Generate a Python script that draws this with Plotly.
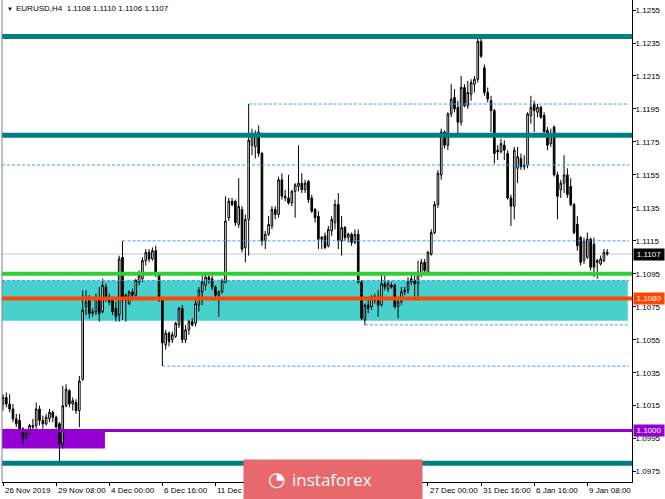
import plotly.graph_objects as go

# ---------------- data (EURUSD H4) ----------------
opens = [1.1016,1.1020,1.1016,1.1013,1.1007,1.1006,1.1001,1.0996,1.0999,1.1003,
         1.1003,1.1013,1.1006,1.1004,1.1007,1.1011,1.1008,1.1004,1.0992,1.1015,
         1.1024,1.1016,1.1017,1.1012,1.1031,1.1075,1.1079,1.1071,1.1072,1.1080,
         1.1072,1.1087,1.1081,1.1079,1.1074,1.1070,1.1105,1.1079,1.1077,1.1084,
         1.1082,1.1090,1.1092,1.1103,1.1108,1.1104,1.1109,1.1095,1.1079,1.1052,
         1.1059,1.1055,1.1057,1.1064,1.1074,1.1055,1.1061,1.1066,1.1065,1.1076,
         1.1084,1.1088,1.1093,1.1092,1.1087,1.1082,1.1084,1.1090,1.1129,1.1139,
         1.1139,1.1125,1.1134,1.1111,1.1128,1.1173,1.1172,1.1181,1.1168,1.1115,
         1.1119,1.1124,1.1134,1.1131,1.1152,1.1142,1.1141,1.1138,1.1145,1.1148,
         1.1150,1.1146,1.1151,1.1141,1.1134,1.1130,1.1116,1.1118,1.1112,1.1121,
         1.1126,1.1137,1.1115,1.1123,1.1117,1.1119,1.1114,1.1119,1.1090,1.1067,
         1.1076,1.1075,1.1081,1.1079,1.1076,1.1089,1.1086,1.1088,1.1088,1.1075,
         1.1078,1.1084,1.1085,1.1090,1.1091,1.1089,1.1095,1.1102,1.1096,1.1107,
         1.1120,1.1137,1.1155,1.1181,1.1173,1.1192,1.1202,1.1196,1.1187,1.1208,
         1.1197,1.1204,1.1210,1.1213,1.1236,1.1220,1.1205,1.1200,1.1194,1.1170,
         1.1169,1.1173,1.1168,1.1141,1.1136,1.1159,1.1165,1.1160,1.1161,1.1191,
         1.1198,1.1193,1.1196,1.1191,1.1182,1.1174,1.1184,1.1155,1.1146,1.1150,
         1.1155,1.1148,1.1137,1.1125,1.1117,1.1103,1.1105,1.1116,1.1113,1.1102,
         1.1101,1.1103,1.1108]
highs = [1.1022,1.1023,1.1022,1.1016,1.1010,1.1010,1.1002,1.1000,1.1004,1.1007,
         1.1017,1.1015,1.1009,1.1010,1.1013,1.1012,1.1009,1.1005,1.1027,1.1028,
         1.1025,1.1020,1.1019,1.1033,1.1085,1.1085,1.1082,1.1074,1.1083,1.1087,
         1.1092,1.1089,1.1083,1.1081,1.1078,1.1106,1.1115,1.1083,1.1085,1.1086,
         1.1092,1.1097,1.1105,1.1110,1.1110,1.1111,1.1112,1.1096,1.1080,1.1061,
         1.1060,1.1060,1.1066,1.1075,1.1076,1.1064,1.1067,1.1068,1.1080,1.1087,
         1.1095,1.1095,1.1095,1.1094,1.1088,1.1085,1.1092,1.1142,1.1141,1.1141,
         1.1140,1.1153,1.1136,1.1131,1.1198,1.1183,1.1182,1.1185,1.1169,1.1121,
         1.1130,1.1136,1.1136,1.1154,1.1156,1.1146,1.1155,1.1146,1.1150,1.1173,
         1.1156,1.1152,1.1152,1.1143,1.1135,1.1133,1.1118,1.1120,1.1124,1.1130,
         1.1140,1.1144,1.1130,1.1124,1.1120,1.1120,1.1122,1.1122,1.1091,1.1077,
         1.1079,1.1082,1.1083,1.1085,1.1094,1.1094,1.1091,1.1090,1.1089,1.1081,
         1.1087,1.1087,1.1093,1.1095,1.1094,1.1103,1.1104,1.1104,1.1109,1.1122,
         1.1139,1.1158,1.1183,1.1182,1.1193,1.1210,1.1207,1.1200,1.1215,1.1210,
         1.1212,1.1213,1.1215,1.1238,1.1239,1.1222,1.1208,1.1203,1.1195,1.1173,
         1.1177,1.1176,1.1170,1.1143,1.1172,1.1172,1.1168,1.1167,1.1193,1.1203,
         1.1200,1.1198,1.1197,1.1193,1.1184,1.1183,1.1185,1.1157,1.1152,1.1167,
         1.1159,1.1153,1.1138,1.1130,1.1118,1.1117,1.1120,1.1117,1.1117,1.1104,
         1.1106,1.1110,1.1110]
lows = [1.1012,1.1014,1.1011,1.1005,1.1002,1.0999,1.0992,1.0994,1.0997,1.1000,
        1.1001,1.1003,1.1001,1.1003,1.1005,1.1005,1.1001,1.0980,1.0989,1.1014,
        1.1014,1.1012,1.1010,1.1002,1.1030,1.1070,1.1068,1.1069,1.1070,1.1066,
        1.1071,1.1078,1.1076,1.1070,1.1066,1.1066,1.1067,1.1066,1.1076,1.1080,
        1.1081,1.1088,1.1090,1.1100,1.1102,1.1103,1.1093,1.1078,1.1039,1.1049,
        1.1051,1.1053,1.1056,1.1062,1.1053,1.1053,1.1058,1.1063,1.1063,1.1072,
        1.1076,1.1085,1.1089,1.1085,1.1079,1.1069,1.1083,1.1089,1.1127,1.1136,
        1.1124,1.1123,1.1108,1.1102,1.1106,1.1167,1.1165,1.1166,1.1112,1.1110,
        1.1118,1.1122,1.1128,1.1129,1.1140,1.1139,1.1137,1.1136,1.1129,1.1145,
        1.1144,1.1144,1.1138,1.1132,1.1126,1.1110,1.1110,1.1110,1.1111,1.1118,
        1.1122,1.1110,1.1106,1.1115,1.1114,1.1112,1.1113,1.1089,1.1067,1.1064,
        1.1071,1.1073,1.1077,1.1069,1.1075,1.1085,1.1084,1.1086,1.1074,1.1068,
        1.1076,1.1082,1.1083,1.1088,1.1081,1.1081,1.1093,1.1095,1.1094,1.1106,
        1.1119,1.1135,1.1152,1.1171,1.1170,1.1190,1.1193,1.1180,1.1185,1.1196,
        1.1195,1.1200,1.1205,1.1211,1.1226,1.1203,1.1199,1.1181,1.1162,1.1164,
        1.1168,1.1164,1.1140,1.1124,1.1128,1.1150,1.1158,1.1158,1.1159,1.1186,
        1.1181,1.1190,1.1189,1.1181,1.1170,1.1172,1.1154,1.1128,1.1141,1.1144,
        1.1141,1.1136,1.1119,1.1109,1.1100,1.1101,1.1104,1.1097,1.1093,1.1092,
        1.1100,1.1102,1.1106]
closes = [1.1020,1.1016,1.1013,1.1007,1.1004,1.1001,1.0995,1.0998,1.1003,1.1002,
          1.1013,1.1006,1.1004,1.1008,1.1011,1.1008,1.1002,1.0992,1.1015,1.1025,
          1.1016,1.1018,1.1012,1.1030,1.1073,1.1078,1.1071,1.1072,1.1080,1.1071,
          1.1088,1.1081,1.1078,1.1072,1.1069,1.1104,1.1079,1.1082,1.1084,1.1082,
          1.1091,1.1094,1.1103,1.1108,1.1104,1.1109,1.1095,1.1079,1.1053,1.1059,
          1.1054,1.1058,1.1065,1.1074,1.1055,1.1061,1.1066,1.1064,1.1077,1.1085,
          1.1090,1.1093,1.1091,1.1087,1.1082,1.1084,1.1091,1.1127,1.1139,1.1137,
          1.1126,1.1136,1.1110,1.1128,1.1176,1.1180,1.1180,1.1168,1.1115,1.1119,
          1.1125,1.1134,1.1131,1.1152,1.1142,1.1141,1.1138,1.1145,1.1149,1.1150,
          1.1146,1.1150,1.1140,1.1133,1.1129,1.1116,1.1117,1.1111,1.1122,1.1128,
          1.1137,1.1115,1.1123,1.1117,1.1119,1.1114,1.1119,1.1090,1.1068,1.1076,
          1.1074,1.1081,1.1079,1.1076,1.1089,1.1087,1.1089,1.1087,1.1075,1.1078,
          1.1084,1.1085,1.1090,1.1092,1.1089,1.1096,1.1102,1.1097,1.1108,1.1120,
          1.1137,1.1156,1.1181,1.1173,1.1192,1.1201,1.1195,1.1187,1.1208,1.1197,
          1.1205,1.1211,1.1213,1.1236,1.1227,1.1205,1.1201,1.1194,1.1168,1.1169,
          1.1174,1.1170,1.1141,1.1136,1.1170,1.1166,1.1160,1.1161,1.1192,1.1196,
          1.1194,1.1196,1.1190,1.1181,1.1173,1.1180,1.1155,1.1142,1.1150,1.1155,
          1.1143,1.1137,1.1120,1.1112,1.1102,1.1115,1.1116,1.1099,1.1099,1.1103,
          1.1104,1.1108,1.1107]
bars = list(range(len(opens)))

# x-axis time labels (every 16 bars); the ones under the watermark are not visible
time_tick_bars = [0, 16, 32, 48, 64, 80, 96, 112, 128, 144, 160, 176]
time_label_bars = [0, 16, 32, 48, 64, 128, 144, 160, 176]
time_labels = ["26 Nov 2019", "29 Nov 08:00", "4 Dec 00:00", "6 Dec 16:00",
               "11 Dec 08:00", "27 Dec 00:00", "31 Dec 16:00", "6 Jan 16:00",
               "9 Jan 08:00"]
price_ticks = [1.0975, 1.0995, 1.1015, 1.1035, 1.1055, 1.1075, 1.1095, 1.1115,
               1.1135, 1.1155, 1.1175, 1.1195, 1.1215, 1.1235, 1.1255]

# levels drawn on the chart
teal_levels = [1.1239, 1.1179, 1.0980]
green_level = 1.1095
orange_level = 1.1080
purple_level = 1.1000
purple_zone = (1.0989, 1.1000)
cyan_zone = (1.10665, 1.1091)
last_price = 1.1107
# dotted levels: (price, start bar)
dotted_levels = [(1.1198, 74), (1.1161, -0.3), (1.1115, 36), (1.1091, -0.3),
                 (1.1064, 109), (1.1039, 48)]

X_MIN, X_MAX = -0.3, 189.46
Y_MIN, Y_MAX = 1.09687, 1.12611
RIGHT_END = 188.6

FONT = "Liberation Sans"

fig = go.Figure()
fig.add_trace(go.Candlestick(
    x=bars, open=opens, high=highs, low=lows, close=closes,
    increasing=dict(line=dict(color="#000000", width=1), fillcolor="#ffffff"),
    decreasing=dict(line=dict(color="#000000", width=1), fillcolor="#000000"),
    whiskerwidth=0, showlegend=False, hoverinfo="skip"))

shapes = []
# background zones
shapes.append(dict(type="rect", xref="x", yref="y", x0=X_MIN, x1=188.2,
                   y0=cyan_zone[0], y1=cyan_zone[1], fillcolor="#48D1CC",
                   line=dict(width=0), layer="below"))
shapes.append(dict(type="rect", xref="x", yref="y", x0=X_MIN, x1=30.7,
                   y0=purple_zone[0], y1=purple_zone[1], fillcolor="#9400D3",
                   line=dict(width=0), layer="below"))
# current price line
shapes.append(dict(type="line", xref="paper", yref="y", x0=0, x1=1,
                   y0=last_price, y1=last_price, line=dict(color="#C8C8C8", width=1),
                   layer="below"))
# dotted levels
for p, start in dotted_levels:
    shapes.append(dict(type="line", xref="x", yref="y", x0=start, x1=RIGHT_END,
                       y0=p, y1=p, line=dict(color="#3C9BFF", width=1, dash="3px,2px"),
                       layer="above"))
# horizontal levels
for p in teal_levels:
    shapes.append(dict(type="line", xref="paper", yref="y", x0=0, x1=1, y0=p, y1=p,
                       line=dict(color="#008080", width=5), layer="above"))
shapes.append(dict(type="line", xref="paper", yref="y", x0=0, x1=1, y0=green_level,
                   y1=green_level, line=dict(color="#32CD32", width=4), layer="above"))
shapes.append(dict(type="line", xref="paper", yref="y", x0=0, x1=1, y0=orange_level,
                   y1=orange_level, line=dict(color="#FF4500", width=4), layer="above"))
shapes.append(dict(type="line", xref="paper", yref="y", x0=0, x1=1, y0=purple_level,
                   y1=purple_level, line=dict(color="#9400D3", width=3), layer="above"))
# left border
shapes.append(dict(type="line", xref="paper", yref="paper", x0=0, x1=0, y0=0, y1=1,
                   line=dict(color="#808080", width=1), layer="above"))

annotations = []
# title
annotations.append(dict(xref="paper", yref="paper", x=0, y=1, xanchor="left", yanchor="top",
                        xshift=3, yshift=-4, text="▼", showarrow=False,
                        font=dict(family=FONT, size=6, color="#000000")))
annotations.append(dict(xref="paper", yref="paper", x=0, y=1, xanchor="left", yanchor="top",
                        xshift=12, yshift=-2,
                        text="EURUSD,H4  1.1108 1.1110 1.1106 1.1107", showarrow=False,
                        font=dict(family=FONT, size=8, color="#000000")))
# x tick labels (left aligned to tick)
for b, lab in zip(time_label_bars, time_labels):
    annotations.append(dict(xref="x", yref="paper", x=b, y=0, xanchor="left", yanchor="top",
                            xshift=0, yshift=-2, text=lab, showarrow=False,
                            font=dict(family=FONT, size=8, color="#000000")))
# right-side price labels
for p, bg in [(orange_level, "#FF4500"), (purple_level, "#9400D3"), (last_price, "#000000")]:
    annotations.append(dict(xref="paper", yref="y", x=1, y=p, xanchor="left", yanchor="middle",
                            xshift=1, text=f"{p:.4f}", showarrow=False, bgcolor=bg,
                            borderpad=1, width=28,
                            font=dict(family=FONT, size=8, color="#ffffff")))
# watermark box (drawn last so it covers the axis labels beneath it)
annotations.append(dict(xref="paper", yref="paper", x=(243 - 2) / 630, y=(482 - 459) / 482,
                        xanchor="left", yanchor="top", text=" ", showarrow=False,
                        bgcolor="#E8696B", width=178, height=40, borderpad=0,
                        font=dict(family="Open Sans", size=17, color="#ffffff")))
annotations.append(dict(xref="paper", yref="paper", x=(276 - 2) / 630, y=(482 - 479) / 482,
                        xanchor="center", yanchor="middle", text="◔", showarrow=False,
                        font=dict(family="DejaVu Sans", size=20, color="#ffffff")))
annotations.append(dict(xref="paper", yref="paper", x=(290 - 2) / 630, y=(482 - 479) / 482,
                        xanchor="left", yanchor="middle", text="instaforex", showarrow=False,
                        font=dict(family="Open Sans", size=17, color="#ffffff")))

fig.update_layout(
    width=665, height=499,
    margin=dict(l=2, r=33, t=0, b=17),
    paper_bgcolor="#ffffff", plot_bgcolor="#ffffff",
    shapes=shapes, annotations=annotations,
    xaxis=dict(range=[X_MIN, X_MAX], rangeslider=dict(visible=False), showgrid=False,
               zeroline=False, showline=True, linecolor="#000000", linewidth=1,
               ticks="outside", ticklen=3, tickcolor="#000000",
               tickvals=time_tick_bars, showticklabels=False),
    yaxis=dict(range=[Y_MIN, Y_MAX], side="right", showgrid=False, zeroline=False,
               showline=True, linecolor="#000000", linewidth=1,
               ticks="outside", ticklen=3, tickcolor="#000000", ticklabelstandoff=-2,
               tickvals=price_ticks, ticktext=[f"{v:.4f}" for v in price_ticks],
               tickfont=dict(family=FONT, size=8, color="#000000")),
)

fig.write_html("out.html", config={"displayModeBar": False},
               post_script="document.body.style.margin='0';document.body.style.padding='0';"
                           "document.body.style.overflow='hidden';")
